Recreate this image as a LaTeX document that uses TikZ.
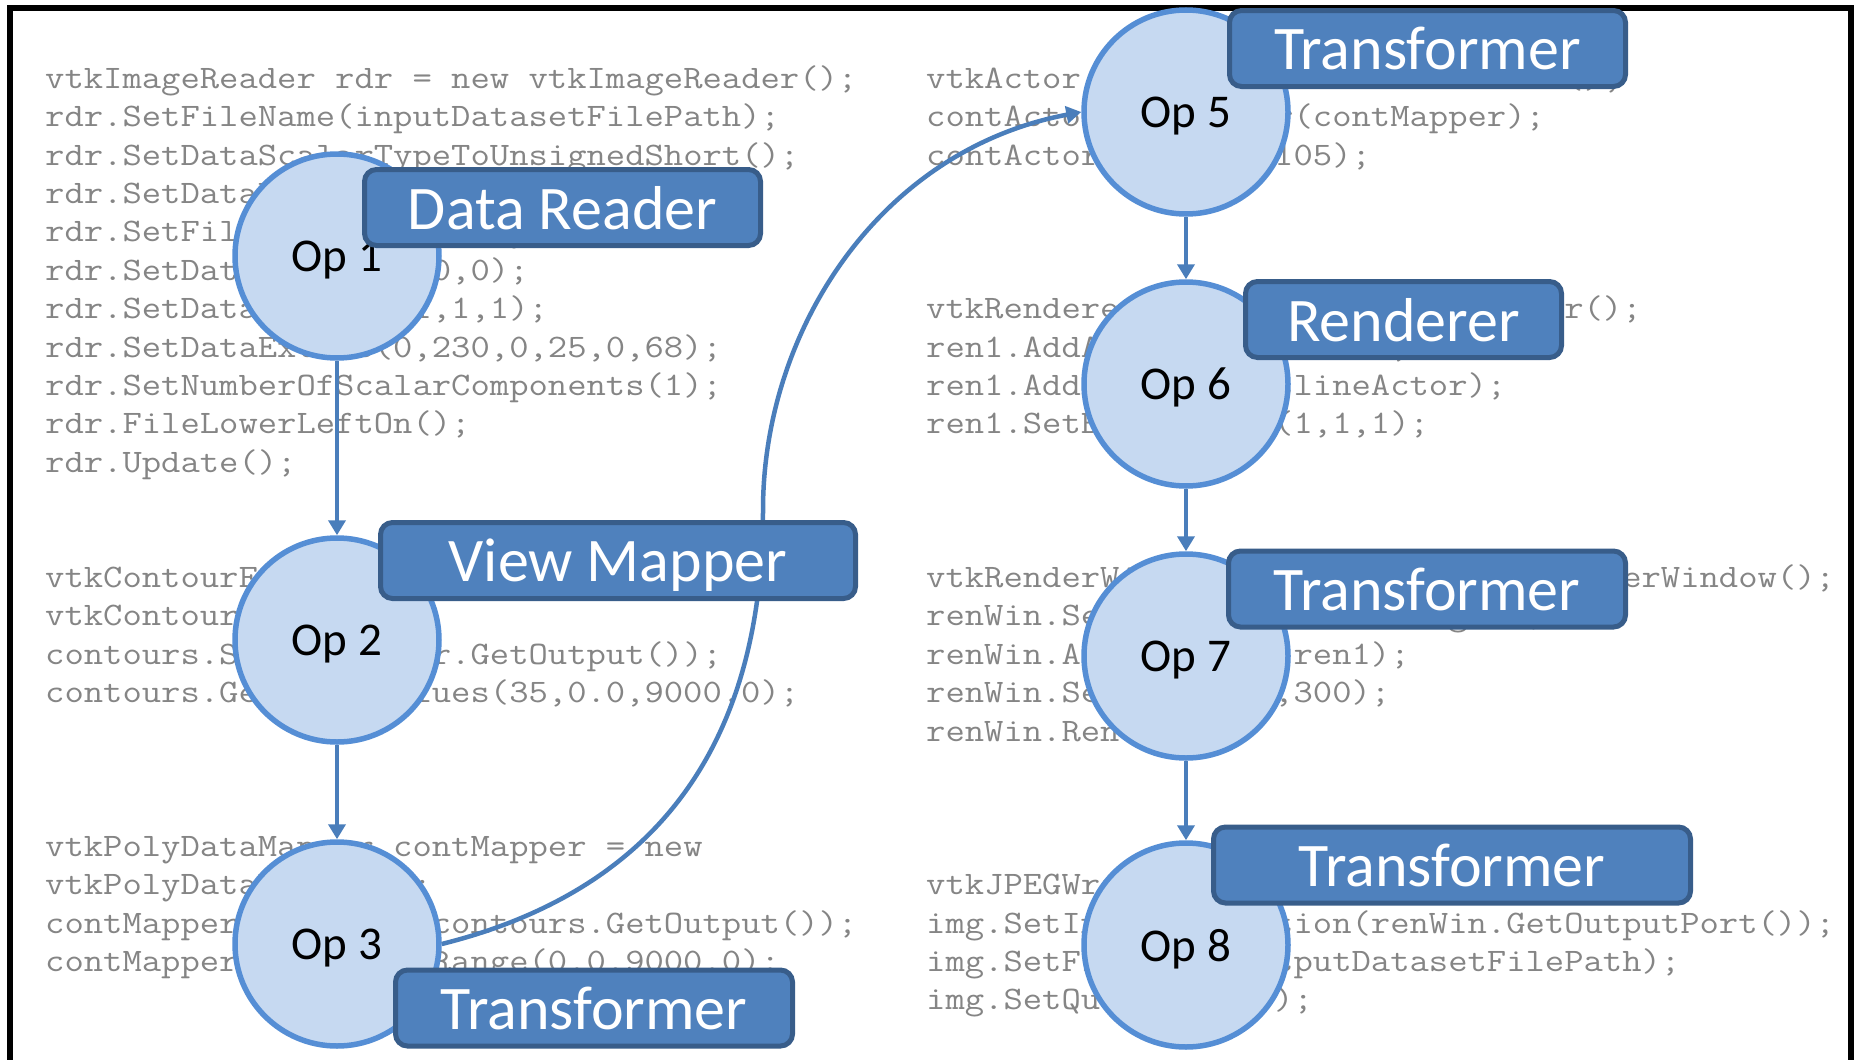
\documentclass[tikz,border=0pt]{standalone}
\usepackage{fontspec}
\setmainfont{Carlito}
\usetikzlibrary{arrows.meta}
\definecolor{circfill}{HTML}{C6D9F1}
\definecolor{circline}{HTML}{558ED5}
\definecolor{arrowc}{HTML}{4A7EBB}
\definecolor{boxfill}{HTML}{4F81BD}
\definecolor{boxline}{HTML}{385D8A}
\definecolor{codec}{HTML}{858585}
\newcommand\codeline[1]{\scalebox{1.145}[1]{#1}}
\tikzset{
  opnode/.style={circle, draw=circline, fill=circfill, line width=5.5pt,
    minimum size=204pt, inner sep=0pt, text=black, text depth=0pt,
    font=\fontsize{47}{50}\selectfont},
  tagbox/.style={rectangle, rounded corners=12pt, draw=boxline, fill=boxfill,
    line width=5pt, inner sep=0pt, minimum height=76pt, text=white,
    text depth=0pt, font=\fontsize{62}{66}\selectfont},
  code/.style={anchor=base west, inner sep=0pt, text=codec,
    font=\ttfamily\fontsize{32.79}{38}\selectfont},
  flow/.style={draw=arrowc, line width=4.5pt, -{Triangle[length=15pt,width=17pt]}},
  frameline/.style={draw=black, line width=6pt, line join=miter},
}
\begin{document}
\begin{tikzpicture}[x=1pt,y=-1pt]
\useasboundingbox (0,0) rectangle (1856,1060);
\fill[white] (0,0) rectangle (1856,1060);
\draw[frameline] (10,1060) -- (10,8) -- (1851,8) -- (1851,1060);

% left column code
\node[code] (a0) at (45,88.3) {\codeline{vtkImageReader rdr = new vtkImageReader();}};
\node[code] (a1) at (45,126.7) {\codeline{rdr.SetFileName(inputDatasetFilePath);}};
\node[code] (a2) at (45,165.1) {\codeline{rdr.SetDataScalarTypeToUnsignedShort();}};
\node[code] (a3) at (45,203.5) {\codeline{rdr.SetDataByteOrderToLittleEndian();}};
\node[code] (a4) at (45,241.9) {\codeline{rdr.SetFileDimensionality(3);}};
\node[code] (a5) at (45,280.3) {\codeline{rdr.SetDataOrigin(0,0,0);}};
\node[code] (a6) at (45,318.7) {\codeline{rdr.SetDataSpacing(1,1,1);}};
\node[code] (a7) at (45,357.1) {\codeline{rdr.SetDataExtent(0,230,0,25,0,68);}};
\node[code] (a8) at (45,395.5) {\codeline{rdr.SetNumberOfScalarComponents(1);}};
\node[code] (a9) at (45,433.9) {\codeline{rdr.FileLowerLeftOn();}};
\node[code] (a10) at (45,472.3) {\codeline{rdr.Update();}};

\node[code] (b0) at (45,587.5) {\codeline{vtkContourFilter contours = new}};
\node[code] (b1) at (45,625.9) {\codeline{vtkContourFilter();}};
\node[code] (b2) at (45,664.3) {\codeline{contours.SetInput(rdr.GetOutput());}};
\node[code] (b3) at (45,702.7) {\codeline{contours.GenerateValues(35,0.0,9000.0);}};

\node[code] (c0) at (45,856.3) {\codeline{vtkPolyDataMapper contMapper = new}};
\node[code] (c1) at (45,894.7) {\codeline{vtkPolyDataMapper();}};
\node[code] (c2) at (45,933.1) {\codeline{contMapper.SetInput(contours.GetOutput());}};
\node[code] (c3) at (45,971.5) {\codeline{contMapper.SetScalarRange(0.0,9000.0);}};

% right column code
\node[code] (d0) at (926,88.3) {\codeline{vtkActor contActor = new vtkActor();}};
\node[code] (d1) at (926,126.7) {\codeline{contActor.SetMapper(contMapper);}};
\node[code] (d2) at (926,165.1) {\codeline{contActor.RotateX(105);}};

\node[code] (e0) at (926,318.7) {\codeline{vtkRenderer ren1 = new vtkRenderer();}};
\node[code] (e1) at (926,357.1) {\codeline{ren1.AddActor(contActor);}};
\node[code] (e2) at (926,395.5) {\codeline{ren1.AddActor2D(outlineActor);}};
\node[code] (e3) at (926,433.9) {\codeline{ren1.SetBackground(1,1,1);}};

\node[code] (f0) at (926,587.5) {\codeline{vtkRenderWindow renWin = new vtkRenderWindow();}};
\node[code] (f1) at (926,625.9) {\codeline{renWin.SetOffScreenRendering(1);}};
\node[code] (f2) at (926,664.3) {\codeline{renWin.AddRenderer(ren1);}};
\node[code] (f3) at (926,702.7) {\codeline{renWin.SetSize(300,300);}};
\node[code] (f4) at (926,741.1) {\codeline{renWin.Render();}};

\node[code] (g0) at (926,894.7) {\codeline{vtkJPEGWriter img = new vtkJPEGWriter();}};
\node[code] (g1) at (926,933.1) {\codeline{img.SetInputConnection(renWin.GetOutputPort());}};
\node[code] (g2) at (926,971.5) {\codeline{img.SetFileName(outputDatasetFilePath);}};
\node[code] (g3) at (926,1009.9) {\codeline{img.SetQuality(100);}};

% operation circles
\node[opnode] (op1) at (337,256) {Op 1};
\node[opnode] (op2) at (337,640) {Op 2};
\node[opnode] (op3) at (337,944) {Op 3};
\node[opnode] (op5) at (1186,112) {Op 5};
\node[opnode] (op6) at (1186,384) {Op 6};
\node[opnode] (op7) at (1186,656) {Op 7};
\node[opnode] (op8) at (1186,945) {Op 8};

% connectors
\draw[flow] (op1.south) -- (op2.north);
\draw[flow] (op2.south) -- (op3.north);
\draw[flow] (op5.south) -- (op6.north);
\draw[flow] (op6.south) -- (op7.north);
\draw[flow] (op7.south) -- (op8.north);
\coordinate (bend) at (763,510);
\draw[flow] (op3.east) .. controls (622,899) and (763,780) .. (bend)
  .. controls (763,330) and (880,150) .. (op5.west);

% labels
\node[tagbox, minimum width=396pt] (t1) at (562.5,207.5) {Data Reader};
\node[tagbox, minimum width=475pt] (t2) at (618,560.5) {View Mapper};
\node[tagbox, minimum width=397pt] (t3) at (594,1008) {Transformer};
\node[tagbox, minimum width=396pt] (t5) at (1427.5,48.5) {Transformer};
\node[tagbox, minimum width=316pt] (t6) at (1403.5,319.5) {Renderer};
\node[tagbox, minimum width=397pt] (t7) at (1427,589) {Transformer};
\node[tagbox, minimum width=477pt] (t8) at (1452,865) {Transformer};
\end{tikzpicture}
\end{document}
